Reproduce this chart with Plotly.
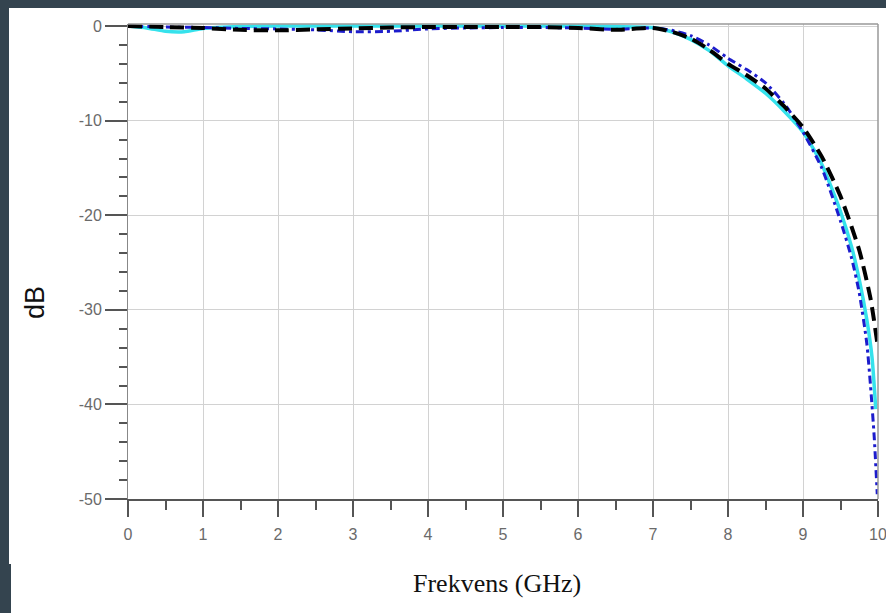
import plotly.graph_objects as go

# ---- data ----
freq_cyan = [0, 0.25, 0.5, 0.75, 1, 1.5, 2, 2.5, 3, 3.5, 4, 4.5, 5, 5.5, 6, 6.5, 7, 7.25, 7.5, 7.75,
             8, 8.25, 8.5, 8.75, 9, 9.25, 9.5, 9.65, 9.75, 9.85, 9.92, 9.97]
db_cyan = [0, -0.2, -0.55, -0.6, -0.25, -0.05, 0, 0, 0, 0, 0, 0, 0, 0, 0, -0.05, -0.15, -0.6, -1.4, -2.6,
           -4.2, -5.6, -7.1, -9.0, -11.2, -14.6, -19.6, -23.4, -26.8, -31.0, -35.0, -40.5]

freq_blue = [0, 0.5, 1, 1.5, 2, 2.5, 3, 3.5, 4, 4.5, 5, 5.5, 6, 6.5, 7, 7.25, 7.5, 7.75,
             8, 8.25, 8.5, 8.75, 9, 9.25, 9.5, 9.65, 9.75, 9.85, 9.9, 9.95, 9.99]
db_blue = [0, -0.1, -0.15, -0.25, -0.3, -0.4, -0.6, -0.55, -0.3, -0.2, -0.15, -0.15, -0.2, -0.35, -0.2, -0.45, -1.0, -2.0,
           -3.4, -4.6, -6.0, -8.2, -11.2, -15.0, -20.6, -24.6, -28.2, -33.5, -38.0, -43.5, -49.5]

freq_black = [0, 0.5, 1, 1.5, 2, 2.5, 3, 3.5, 4, 4.5, 5, 5.5, 6, 6.5, 7, 7.25, 7.5, 7.75,
              8, 8.25, 8.5, 8.75, 9, 9.25, 9.5, 9.75, 9.9, 10]
db_black = [0, -0.1, -0.2, -0.4, -0.45, -0.35, -0.25, -0.15, -0.1, -0.1, -0.1, -0.1, -0.2, -0.4, -0.2, -0.6, -1.3, -2.5,
            -4.0, -5.2, -6.6, -8.5, -10.7, -13.8, -18.0, -23.7, -28.8, -34.0]

x_tickvals = [0, 1, 2, 3, 4, 5, 6, 7, 8, 9, 10]
y_tickvals = [0, -10, -20, -30, -40, -50]
y_ticktext = ["0", "-10", "-20", "-30", "-40", "-50"]

fig = go.Figure()
fig.add_trace(go.Scatter(x=freq_cyan, y=db_cyan, mode="lines",
                         line=dict(color="#35e2ec", width=3.5, shape="spline", smoothing=0.6),
                         showlegend=False))
fig.add_trace(go.Scatter(x=freq_blue, y=db_blue, mode="lines",
                         line=dict(color="#1c1ccc", width=3, shape="spline", smoothing=0.6,
                                   dash="8px,4px,3px,4px"),
                         showlegend=False))
fig.add_trace(go.Scatter(x=freq_black, y=db_black, mode="lines",
                         line=dict(color="#000000", width=4, shape="spline", smoothing=0.6,
                                   dash="14px,7px"),
                         showlegend=False))

tick_font = dict(family="Liberation Sans, Arial, sans-serif", size=16, color="#6a6a6a")

fig.update_xaxes(range=[0, 10], tickvals=x_tickvals, ticks="outside", ticklen=16, tickwidth=1.5,
                 tickcolor="#555555", showgrid=True, gridcolor="#d2d2d2", gridwidth=1,
                 showline=True, linecolor="#555555", linewidth=1.5, zeroline=False,
                 tickfont=tick_font, ticklabelstandoff=4, ticklabeloverflow="allow",
                 automargin=False,
                 minor=dict(dtick=0.5, ticks="outside", ticklen=9, tickcolor="#555555",
                            tickwidth=1.5, showgrid=False))
fig.update_yaxes(range=[-50, 0.22], tickvals=y_tickvals, ticktext=y_ticktext, ticks="outside",
                 ticklen=22, tickwidth=1.5, tickcolor="#555555", showgrid=True, gridcolor="#d2d2d2",
                 gridwidth=1, showline=True, linecolor="#888888", linewidth=1, zeroline=False,
                 tickfont=tick_font, automargin=False,
                 minor=dict(dtick=2, ticks="outside", ticklen=8, tickcolor="#555555",
                            tickwidth=1.5, showgrid=False))

dark = "#34444f"
shapes = [
    # white screenshot area on the dark page (drawn beneath the plot)
    dict(type="rect", xref="paper", yref="paper", layer="below",
         x0=(9 - 128) / 750, x1=1.02, y0=(499 - 564) / 475, y1=(499 - 8) / 475,
         fillcolor="white", line=dict(width=0)),
    dict(type="rect", xref="paper", yref="paper", layer="below",
         x0=(11 - 128) / 750, x1=1.02, y0=-0.25, y1=(499 - 563) / 475,
         fillcolor="white", line=dict(width=0)),
    # frame (top and right)
    dict(type="line", xref="paper", yref="paper", x0=0, x1=1, y0=1, y1=1,
         line=dict(color="#999999", width=1.5)),
    dict(type="line", xref="paper", yref="paper", x0=1, x1=1, y0=0, y1=1,
         line=dict(color="#999999", width=1.5)),
]

annotations = [
    dict(text="dB", xref="paper", yref="paper", x=-0.124, y=0.4126, showarrow=False,
         textangle=-90, xanchor="center", yanchor="middle",
         font=dict(family="Liberation Sans, Arial, sans-serif", size=27, color="#111111")),
    dict(text="Frekvens (GHz)", xref="paper", yref="paper", x=0.492, y=-0.177, showarrow=False,
         xanchor="center", yanchor="middle",
         font=dict(family="Liberation Serif, Times New Roman, serif", size=26, color="#111111")),
]

fig.update_layout(width=886, height=613, margin=dict(l=128, r=8, t=24, b=114, autoexpand=False),
                  paper_bgcolor=dark, plot_bgcolor="white",
                  shapes=shapes, annotations=annotations, showlegend=False)

fig.write_html("out.html", config={"displayModeBar": False},
               post_script="document.body.style.margin='0px';"
                           "document.body.style.overflow='hidden';")
